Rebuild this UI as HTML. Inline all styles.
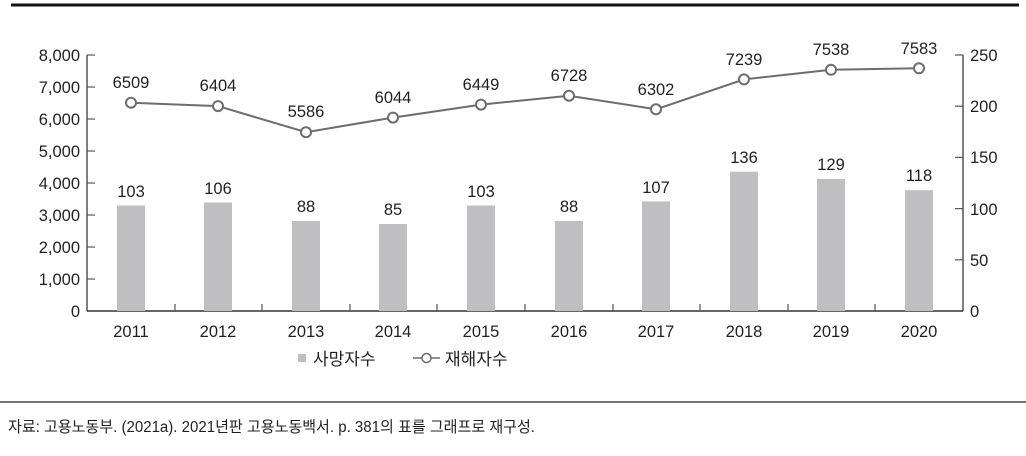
<!DOCTYPE html><html><head><meta charset="utf-8"><style>body{margin:0;background:#fff}svg text{font-family:"Liberation Sans","Noto Sans CJK KR",sans-serif;fill:#231f20}</style></head><body>
<svg width="1026" height="451" viewBox="0 0 1026 451">
<rect x="11" y="3.5" width="1008" height="3" fill="#111"/>
<line x1="87" y1="55" x2="87" y2="311" stroke="#555" stroke-width="1.5"/>
<line x1="963" y1="55" x2="963" y2="311" stroke="#555" stroke-width="1.5"/>
<line x1="87" y1="311" x2="963" y2="311" stroke="#333" stroke-width="1.5"/>
<g font-size="16.5" text-anchor="end">
<text x="80" y="61">8,000</text><text x="80" y="93">7,000</text><text x="80" y="125">6,000</text><text x="80" y="157">5,000</text><text x="80" y="189">4,000</text><text x="80" y="221">3,000</text><text x="80" y="253">2,000</text><text x="80" y="285">1,000</text><text x="80" y="317">0</text>
</g>
<g stroke="#555" stroke-width="1.2">
<line x1="87" y1="55" x2="95" y2="55"/><line x1="87" y1="87" x2="95" y2="87"/><line x1="87" y1="119" x2="95" y2="119"/><line x1="87" y1="151" x2="95" y2="151"/><line x1="87" y1="183" x2="95" y2="183"/><line x1="87" y1="215" x2="95" y2="215"/><line x1="87" y1="247" x2="95" y2="247"/><line x1="87" y1="279" x2="95" y2="279"/>
<line x1="955" y1="55" x2="963" y2="55"/><line x1="955" y1="106.2" x2="963" y2="106.2"/><line x1="955" y1="157.4" x2="963" y2="157.4"/><line x1="955" y1="208.6" x2="963" y2="208.6"/><line x1="955" y1="259.8" x2="963" y2="259.8"/>
<line x1="175" y1="304" x2="175" y2="311"/><line x1="262" y1="304" x2="262" y2="311"/><line x1="350" y1="304" x2="350" y2="311"/><line x1="437" y1="304" x2="437" y2="311"/><line x1="525" y1="304" x2="525" y2="311"/><line x1="613" y1="304" x2="613" y2="311"/><line x1="700" y1="304" x2="700" y2="311"/><line x1="788" y1="304" x2="788" y2="311"/><line x1="875" y1="304" x2="875" y2="311"/>
</g>
<g font-size="16.5" text-anchor="start">
<text x="970" y="61">250</text><text x="970" y="112">200</text><text x="970" y="163">150</text><text x="970" y="215">100</text><text x="970" y="266">50</text><text x="970" y="317">0</text>
</g>
<g fill="#bfbfc1">
<rect x="117" y="205.5" width="28" height="105.5"/><rect x="204" y="202.5" width="28" height="108.5"/><rect x="292" y="220.9" width="28" height="90.1"/><rect x="379" y="224" width="28" height="87"/><rect x="467" y="205.5" width="28" height="105.5"/><rect x="555" y="220.9" width="28" height="90.1"/><rect x="642" y="201.4" width="28" height="109.6"/><rect x="730" y="171.7" width="28" height="139.3"/><rect x="817" y="178.9" width="28" height="132.1"/><rect x="905" y="190.2" width="28" height="120.8"/>
</g>
<g font-size="16.5" text-anchor="middle">
<text x="131" y="197">103</text><text x="218" y="194">106</text><text x="306" y="212">88</text><text x="393" y="215">85</text><text x="481" y="197">103</text><text x="569" y="212">88</text><text x="656" y="193">107</text><text x="744" y="163">136</text><text x="831" y="170">129</text><text x="919" y="181">118</text>
<text x="131" y="337">2011</text><text x="218" y="337">2012</text><text x="306" y="337">2013</text><text x="393" y="337">2014</text><text x="481" y="337">2015</text><text x="569" y="337">2016</text><text x="656" y="337">2017</text><text x="744" y="337">2018</text><text x="831" y="337">2019</text><text x="919" y="337">2020</text>
</g>
<polyline fill="none" stroke="#6d6d6d" stroke-width="2" points="131,102.7 218,106.1 306,132.2 393,117.6 481,104.6 569,95.7 656,109.3 744,79.4 831,69.8 919,68.3"/>
<g fill="#fff" stroke="#6d6d6d" stroke-width="2">
<circle cx="131" cy="102.7" r="5"/><circle cx="218" cy="106.1" r="5"/><circle cx="306" cy="132.2" r="5"/><circle cx="393" cy="117.6" r="5"/><circle cx="481" cy="104.6" r="5"/><circle cx="569" cy="95.7" r="5"/><circle cx="656" cy="109.3" r="5"/><circle cx="744" cy="79.4" r="5"/><circle cx="831" cy="69.8" r="5"/><circle cx="919" cy="68.3" r="5"/>
</g>
<g font-size="16.5" text-anchor="middle">
<text x="131" y="88">6509</text><text x="218" y="91">6404</text><text x="306" y="117">5586</text><text x="393" y="103">6044</text><text x="481" y="90">6449</text><text x="569" y="81">6728</text><text x="656" y="95">6302</text><text x="744" y="65">7239</text><text x="831" y="55">7538</text><text x="919" y="54">7583</text>
</g>
<rect x="298" y="354" width="8" height="8" fill="#bfbfc1"/>
<text x="313" y="365" font-size="17">사망자수</text>
<line x1="413" y1="358" x2="440" y2="358" stroke="#6d6d6d" stroke-width="1.5"/>
<circle cx="426.5" cy="358" r="4.5" fill="#fff" stroke="#6d6d6d" stroke-width="1.5"/>
<text x="445" y="365" font-size="17">재해자수</text>
<line x1="0" y1="402" x2="1026" y2="402" stroke="#222" stroke-width="1.2"/>
<text x="8" y="432" font-size="15.5" textLength="527" lengthAdjust="spacingAndGlyphs">자료: 고용노동부. (2021a). 2021년판 고용노동백서. p. 381의 표를 그래프로 재구성.</text>
</svg></body></html>
